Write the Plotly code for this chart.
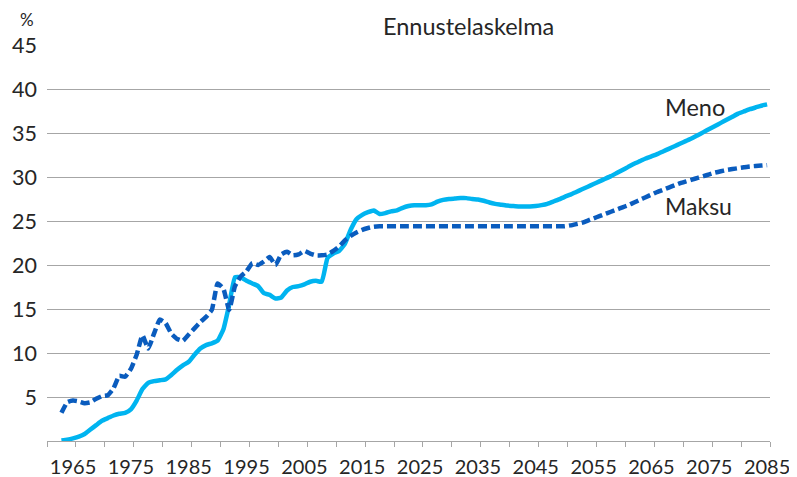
import plotly.graph_objects as go

years = list(range(1963, 2086))

meno = [
    0.05, 0.15, 0.3, 0.5, 0.8, 1.3, 1.8, 2.3, 2.6, 2.9,          # 1963-1972
    3.1, 3.2, 3.6, 4.6, 5.9, 6.6, 6.8, 6.9, 7.0, 7.5,            # 1973-1982
    8.1, 8.6, 9.0, 9.8, 10.5, 10.9, 11.1, 11.4, 12.7, 15.5,      # 1983-1992
    18.6, 18.6, 18.2, 17.9, 17.6, 16.8, 16.6, 16.2, 16.3, 17.1,  # 1993-2002
    17.5, 17.6, 17.8, 18.1, 18.2, 18.1, 20.8, 21.3, 21.6, 22.4,  # 2003-2012
    24.0, 25.2, 25.7, 26.0, 26.2, 25.8, 25.9, 26.1, 26.2, 26.5,  # 2013-2022
    26.7, 26.8, 26.8, 26.8, 26.9, 27.2, 27.4, 27.5, 27.55, 27.6, # 2023-2032
    27.6, 27.5, 27.45, 27.3, 27.1, 26.95, 26.85, 26.75, 26.7, 26.65,  # 2033-2042
    26.65, 26.65, 26.7, 26.8, 26.95, 27.2, 27.45, 27.75, 28.0, 28.3,  # 2043-2052
    28.6, 28.9, 29.2, 29.5, 29.8, 30.1, 30.45, 30.8, 31.15, 31.5,     # 2053-2062
    31.8, 32.1, 32.35, 32.6, 32.9, 33.2, 33.5, 33.8, 34.1, 34.4,      # 2063-2072
    34.75, 35.1, 35.45, 35.8, 36.15, 36.5, 36.85, 37.2, 37.45, 37.7,  # 2073-2082
    37.9, 38.1, 38.25,                                                # 2083-2085
]

maksu = [
    3.2, 4.4, 4.6, 4.5, 4.3, 4.4, 4.8, 5.1, 5.2, 6.0,            # 1963-1972
    7.4, 7.3, 8.2, 9.8, 12.0, 10.5, 12.2, 13.8, 13.4, 12.2,      # 1973-1982
    11.6, 11.4, 12.1, 12.8, 13.5, 14.1, 14.9, 17.9, 17.3, 14.9,  # 1983-1992
    17.6, 18.7, 19.3, 20.2, 20.0, 20.4, 20.9, 20.0, 21.2, 21.5,  # 1993-2002
    21.1, 21.2, 21.6, 21.3, 21.1, 21.1, 21.2, 21.6, 22.1, 22.8,  # 2003-2012
    23.3, 23.7, 24.0, 24.2, 24.35, 24.4, 24.4, 24.4, 24.4, 24.4, # 2013-2022
    24.4, 24.4, 24.4, 24.4, 24.4, 24.4, 24.4, 24.4, 24.4, 24.4,  # 2023-2032
    24.4, 24.4, 24.4, 24.4, 24.4, 24.4, 24.4, 24.4, 24.4, 24.4,  # 2033-2042
    24.4, 24.4, 24.4, 24.4, 24.4, 24.4, 24.4, 24.4, 24.5, 24.65, # 2043-2052
    24.8, 25.05, 25.3, 25.55, 25.8, 26.05, 26.3, 26.55, 26.8, 27.1,   # 2053-2062
    27.4, 27.7, 28.0, 28.3, 28.55, 28.8, 29.05, 29.3, 29.5, 29.7,     # 2063-2072
    29.9, 30.1, 30.3, 30.5, 30.65, 30.8, 30.9, 31.0, 31.1, 31.2,      # 2073-2082
    31.25, 31.3, 31.35,                                               # 2083-2085
]

x_tick_labels = [str(y) for y in range(1965, 2086, 10)]
x_tick_vals = list(range(1965, 2086, 10))
y_tick_vals = [5, 10, 15, 20, 25, 30, 35, 40, 45]

FONT = "Lato"
TXT = "#262626"
GRID = "#A6A6A6"

# page body has an 8px margin, so the figure is 8px smaller and offset by 8px
OFF = 8
W, H = 797 - OFF, 477 - OFF
ML, MR, MT, MB = 47 - OFF, 27, 45 - OFF, 36
pw, ph = W - ML - MR, H - MT - MB

def px_x(x):
    return (x - OFF - ML) / pw

def px_y(y):
    return 1 - (y - OFF - MT) / ph

fig = go.Figure()
fig.add_trace(go.Scatter(
    x=years, y=meno, mode="lines", name="Meno",
    line=dict(color="#00B4F0", width=4.5, shape="spline", smoothing=0.4),
))
fig.add_trace(go.Scatter(
    x=years, y=maksu, mode="lines", name="Maksu",
    line=dict(color="#0A5CBE", width=4.5, dash="9px,4px", shape="spline", smoothing=0.4),
))

fig.add_annotation(x=2067.0, y=37.95, xref="x", yref="y", text="Meno",
                   showarrow=False, xanchor="left", yanchor="middle",
                   font=dict(family=FONT, size=23.5, color=TXT))
fig.add_annotation(x=2067.0, y=26.7, xref="x", yref="y", text="Maksu",
                   showarrow=False, xanchor="left", yanchor="middle",
                   font=dict(family=FONT, size=23, color=TXT))
fig.add_annotation(x=px_x(468), y=px_y(26), xref="paper", yref="paper",
                   text="Ennustelaskelma", showarrow=False,
                   xanchor="center", yanchor="middle",
                   font=dict(family=FONT, size=23.5, color=TXT))
fig.add_annotation(x=px_x(27), y=px_y(19.5), xref="paper", yref="paper",
                   text="%", showarrow=False, xanchor="center", yanchor="middle",
                   font=dict(family=FONT, size=17, color=TXT))

fig.update_layout(
    width=W, height=H,
    margin=dict(l=ML, r=MR, t=MT, b=MB, pad=0, autoexpand=False),
    paper_bgcolor="white", plot_bgcolor="white",
    showlegend=False,
    font=dict(family=FONT, color=TXT),
)
fig.update_xaxes(
    range=[1960.5, 2085.5], automargin=False,
    tickmode="array", tickvals=x_tick_vals, ticktext=x_tick_labels,
    ticks="", showgrid=False, zeroline=False,
    showline=True, linecolor=GRID, linewidth=1.3,
    tickfont=dict(family=FONT, size=20, color=TXT),
    ticklabelstandoff=8,
    minor=dict(ticks="outside", ticklen=5, tickcolor=GRID, tickwidth=1.3,
               tick0=1960.5, dtick=5, showgrid=False),
)
fig.update_yaxes(
    range=[0, 45], automargin=False,
    tickmode="array", tickvals=y_tick_vals, ticktext=[str(v) for v in y_tick_vals],
    ticks="", showgrid=True, gridcolor=GRID, gridwidth=1.3,
    zeroline=False, showline=False,
    tickfont=dict(family=FONT, size=21.5, color=TXT),
    ticklabelstandoff=9,
)

fig.write_html("out.html")
